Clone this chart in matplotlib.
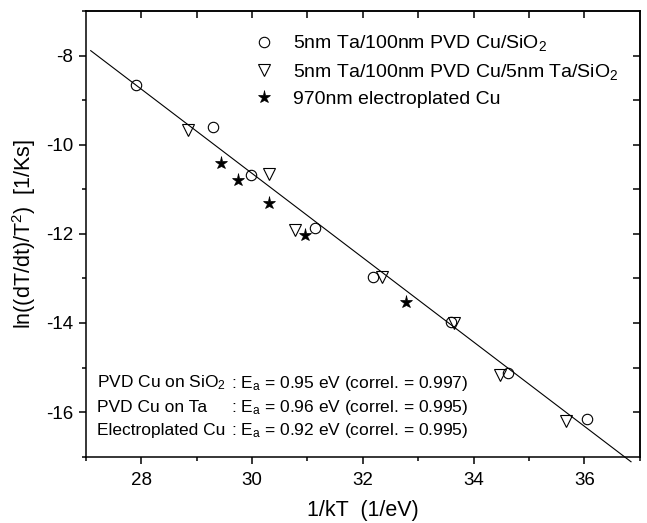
import numpy as np
from matplotlib import pyplot as plt
from matplotlib.lines import Line2D

plt.rcParams["font.family"] = ["Liberation Sans", "DejaVu Sans"]
plt.rcParams["mathtext.fontset"] = "custom"
plt.rcParams["mathtext.rm"] = "Liberation Sans"
plt.rcParams["mathtext.it"] = "Liberation Sans:italic"
plt.rcParams["mathtext.bf"] = "Liberation Sans:bold"
plt.rcParams["axes.unicode_minus"] = False

# 5nm Ta/100nm PVD Cu/SiO2 (open circles)
x_sio2 = [27.90, 29.30, 29.98, 31.13, 32.18, 33.59, 34.62, 36.04]
y_sio2 = [-8.66, -9.61, -10.69, -11.86, -12.97, -13.98, -15.13, -16.15]

# 5nm Ta/100nm PVD Cu/5nm Ta/SiO2 (open down triangles)
x_ta = [28.85, 30.31, 30.78, 32.34, 33.64, 34.47, 35.67]
y_ta = [-9.66, -10.66, -11.92, -12.97, -14.00, -15.16, -16.19]

# 970nm electroplated Cu (filled stars)
x_ep = [29.45, 29.75, 30.31, 30.96, 32.78]
y_ep = [-10.41, -10.80, -11.30, -12.02, -13.52]

# straight line through the data
fit_slope = -0.946
fit_intercept = 17.737
fit_x = [27.09, 36.84]

legend_labels = [
    "5nm Ta/100nm PVD Cu/SiO$_2$",
    "5nm Ta/100nm PVD Cu/5nm Ta/SiO$_2$",
    "970nm electroplated Cu",
]
note_names = ["PVD Cu on SiO$_2$", "PVD Cu on Ta", "Electroplated Cu"]
note_values = [
    ": E$_\\mathrm{a}$ = 0.95 eV (correl. = 0.997)",
    ": E$_\\mathrm{a}$ = 0.96 eV (correl. = 0.995)",
    ": E$_\\mathrm{a}$ = 0.92 eV (correl. = 0.995)",
]

fig = plt.figure(figsize=(6.47, 5.23), dpi=100)
ax = fig.add_axes([0.1325, 0.1268, 0.8565, 0.8522])

lw = 1.1
ms = 7.5

# fit line
fx = np.array(fit_x)
ax.plot(fx, fit_intercept + fit_slope * fx, color="black", lw=0.8, clip_on=False, zorder=2)

# data
ax.plot(x_sio2, y_sio2, "o", ms=ms, mfc="none", mec="black", mew=0.8, zorder=3)
ax.plot(x_ta, y_ta, "v", ms=ms + 0.5, mfc="none", mec="black", mew=0.8, zorder=3)
ax.plot(x_ep, y_ep, "*", ms=ms + 2, mfc="black", mec="black", mew=0.5, zorder=3)

ax.set_xlim(27, 37)
ax.set_ylim(-17, -7)

# bottom / left ticks, outward
ax.set_xticks(np.arange(28, 37, 2))
ax.set_xticks(np.arange(27, 38, 1), minor=True)
ax.set_yticks(np.arange(-16, -7, 2))
ax.set_yticks(np.arange(-17, -6, 1), minor=True)
ax.tick_params(which="major", direction="out", length=5, width=lw, labelsize=13.5, pad=4)
ax.tick_params(which="minor", direction="out", length=3, width=lw)
ax.tick_params(axis="x", which="major", pad=6)
for s in ax.spines.values():
    s.set_linewidth(lw)

# top / right ticks, inward
top = ax.secondary_xaxis("top")
top.set_xticks(np.arange(28, 37, 1))
top.tick_params(direction="in", length=5, width=lw, labeltop=False)
top.spines["top"].set_linewidth(lw)
right = ax.secondary_yaxis("right")
right.set_yticks(np.arange(-16, -7, 1))
right.tick_params(direction="in", length=5, width=lw, labelright=False)
right.spines["right"].set_linewidth(lw)

ax.set_xlabel("1/kT  (1/eV)", fontsize=15.5, labelpad=8)
ax.set_ylabel("ln((dT/dt)/T$^2$)  [1/Ks]", fontsize=15.5, labelpad=6)

# legend
handles = [
    Line2D([], [], ls="none", marker="o", ms=ms, mfc="none", mec="black", mew=0.8),
    Line2D([], [], ls="none", marker="v", ms=ms + 0.5, mfc="none", mec="black", mew=0.8),
    Line2D([], [], ls="none", marker="*", ms=ms + 2, mfc="black", mec="black", mew=0.5),
]
ax.legend(handles, legend_labels, loc="upper left", bbox_to_anchor=(0.29, 0.967),
          frameon=False, fontsize=14, handlelength=1.0, handletextpad=1.0,
          labelspacing=0.44, borderaxespad=0)

# activation energy notes
note_y = [0.165, 0.11, 0.058]
for name, val, yy in zip(note_names, note_values, note_y):
    ax.text(0.02, yy, name, transform=ax.transAxes, fontsize=12.5, va="center", ha="left")
    ax.text(0.262, yy, val, transform=ax.transAxes, fontsize=12.5, va="center", ha="left")

fig.savefig("out.png", dpi=100)
